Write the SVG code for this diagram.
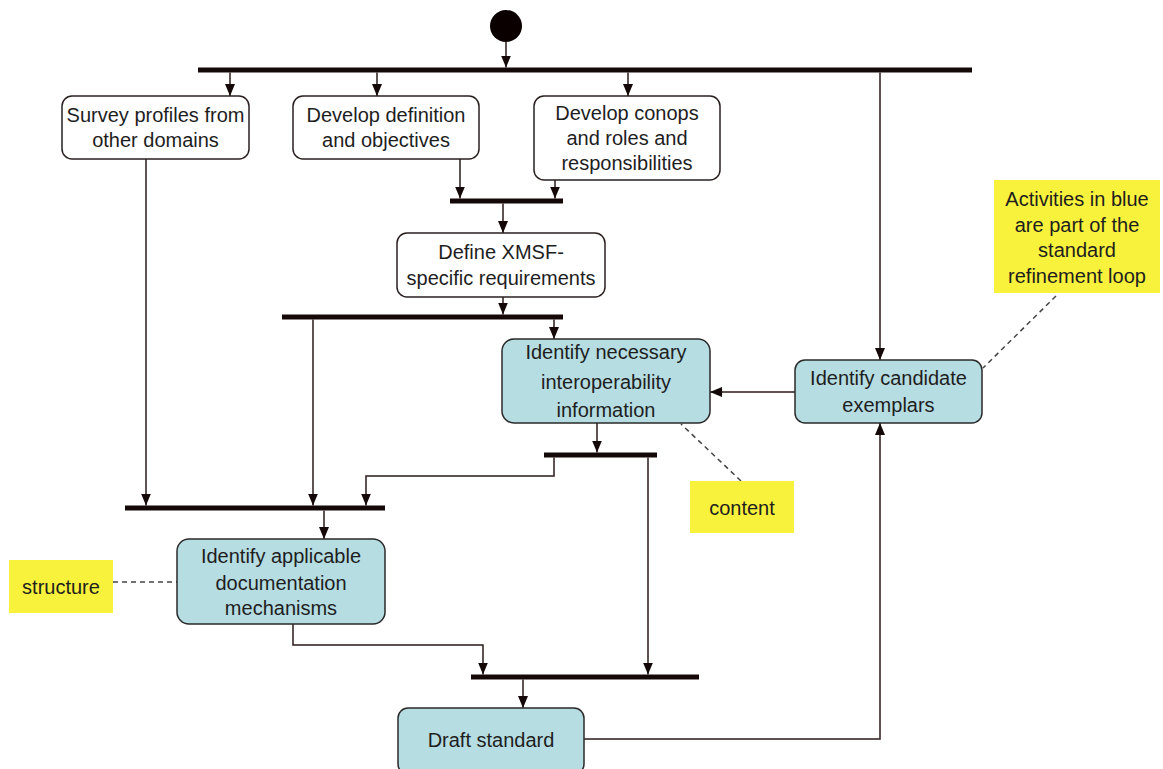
<svg xmlns="http://www.w3.org/2000/svg" width="1163" height="769" viewBox="0 0 1163 769">
<defs>
<style>
.box{fill:#fff;stroke:#2a2020;stroke-width:1.5}
.blue{fill:#b6dde2;stroke:#2a2a2a;stroke-width:1.5}
.bar{fill:#150808}
.note{fill:#f9f23c}
.t{font-family:"Liberation Sans",Arial,sans-serif;font-size:20px;fill:#1e1e1e;text-anchor:middle}
.c{fill:none;stroke:#2a1a1a;stroke-width:1.5}
.a{marker-end:url(#ah)}
.d{fill:none;stroke:#444;stroke-width:1.5;stroke-dasharray:5,4}
</style>
<marker id="ah" viewBox="0 0 12 10" markerWidth="12" markerHeight="10" refX="12" refY="5" orient="auto" markerUnits="userSpaceOnUse">
<path d="M0,0 L12,5 L0,10 z" fill="#150808"/>
</marker>
</defs>
<rect width="1163" height="769" fill="#fff"/>

<g id="start"><circle cx="506" cy="26" r="16" fill="#0a0000"/></g>

<g id="bars">
<rect id="fork1" class="bar" x="198" y="67.5" width="774" height="5"/>
<rect id="join1" class="bar" x="450" y="198.5" width="113" height="5"/>
<rect id="fork2" class="bar" x="282" y="314.5" width="281" height="5"/>
<rect id="fork3" class="bar" x="544" y="452.5" width="113" height="5"/>
<rect id="join2" class="bar" x="125" y="505.5" width="260" height="5"/>
<rect id="join3" class="bar" x="471" y="674.5" width="228" height="5"/>
</g>

<g id="connectors">
<path class="c a" d="M506,42 V67.5"/>
<path class="c a" d="M230,72.5 V96"/>
<path class="c a" d="M377,72.5 V96"/>
<path class="c a" d="M628,72.5 V96"/>
<path class="c a" d="M880,72.5 V360"/>
<path class="c a" d="M460,159 V198.5"/>
<path class="c a" d="M555,180 V198.5"/>
<path class="c a" d="M503,203.5 V233"/>
<path class="c a" d="M503,297 V314.5"/>
<path class="c a" d="M554,319.5 V339"/>
<path class="c a" d="M313,319.5 V505.5"/>
<path class="c a" d="M146,159 V505.5"/>
<path class="c a" d="M597,423 V452.5"/>
<path class="c a" d="M554,457.5 V476 H366 V505.5"/>
<path class="c a" d="M648,457.5 V674.5"/>
<path class="c a" d="M324,510.5 V539"/>
<path class="c a" d="M293,624 V645 H483 V674.5"/>
<path class="c a" d="M523,679.5 V708"/>
<path class="c a" d="M584,739 H880 V423"/>
<path class="c a" d="M795,392 H710"/>
<path class="d" d="M1056,296 L983,368"/>
<path class="d" d="M741,481 L681,424"/>
<path class="d" d="M113,582 H177"/>
</g>

<g id="survey">
<rect class="box" x="62" y="96" width="187" height="63" rx="10"/>
<text class="t" x="155.5" y="122">Survey profiles from</text>
<text class="t" x="155.5" y="147">other domains</text>
</g>

<g id="definition">
<rect class="box" x="293" y="96" width="186" height="63" rx="10"/>
<text class="t" x="386" y="122">Develop definition</text>
<text class="t" x="386" y="147">and objectives</text>
</g>

<g id="conops">
<rect class="box" x="534" y="96" width="186" height="84" rx="10"/>
<text class="t" x="627" y="120">Develop conops</text>
<text class="t" x="627" y="145">and roles and</text>
<text class="t" x="627" y="170">responsibilities</text>
</g>

<g id="define">
<rect class="box" x="397" y="233" width="208" height="64" rx="10"/>
<text class="t" x="501" y="259">Define XMSF-</text>
<text class="t" x="501" y="285">specific requirements</text>
</g>

<g id="necessary">
<rect class="blue" x="502" y="339" width="208" height="84" rx="12"/>
<text class="t" x="606" y="359">Identify necessary</text>
<text class="t" x="606" y="389">interoperability</text>
<text class="t" x="606" y="417">information</text>
</g>

<g id="candidate">
<rect class="blue" x="795" y="360" width="187" height="63" rx="10"/>
<text class="t" x="888.5" y="385">Identify candidate</text>
<text class="t" x="888.5" y="412">exemplars</text>
</g>

<g id="applicable">
<rect class="blue" x="177" y="539" width="208" height="85" rx="12"/>
<text class="t" x="281" y="563">Identify applicable</text>
<text class="t" x="281" y="590">documentation</text>
<text class="t" x="281" y="615">mechanisms</text>
</g>

<g id="draft">
<rect class="blue" x="398" y="708" width="186" height="66" rx="10"/>
<text class="t" x="491" y="747">Draft standard</text>
</g>

<g id="note-blue">
<rect class="note" x="994" y="180" width="166" height="113"/>
<text class="t" x="1077" y="206">Activities in blue</text>
<text class="t" x="1077" y="232">are part of the</text>
<text class="t" x="1077" y="257">standard</text>
<text class="t" x="1077" y="283">refinement loop</text>
</g>

<g id="note-content">
<rect class="note" x="690" y="481" width="104" height="52"/>
<text class="t" x="742" y="515">content</text>
</g>

<g id="note-structure">
<rect class="note" x="9" y="560" width="104" height="53"/>
<text class="t" x="61" y="594">structure</text>
</g>
</svg>
